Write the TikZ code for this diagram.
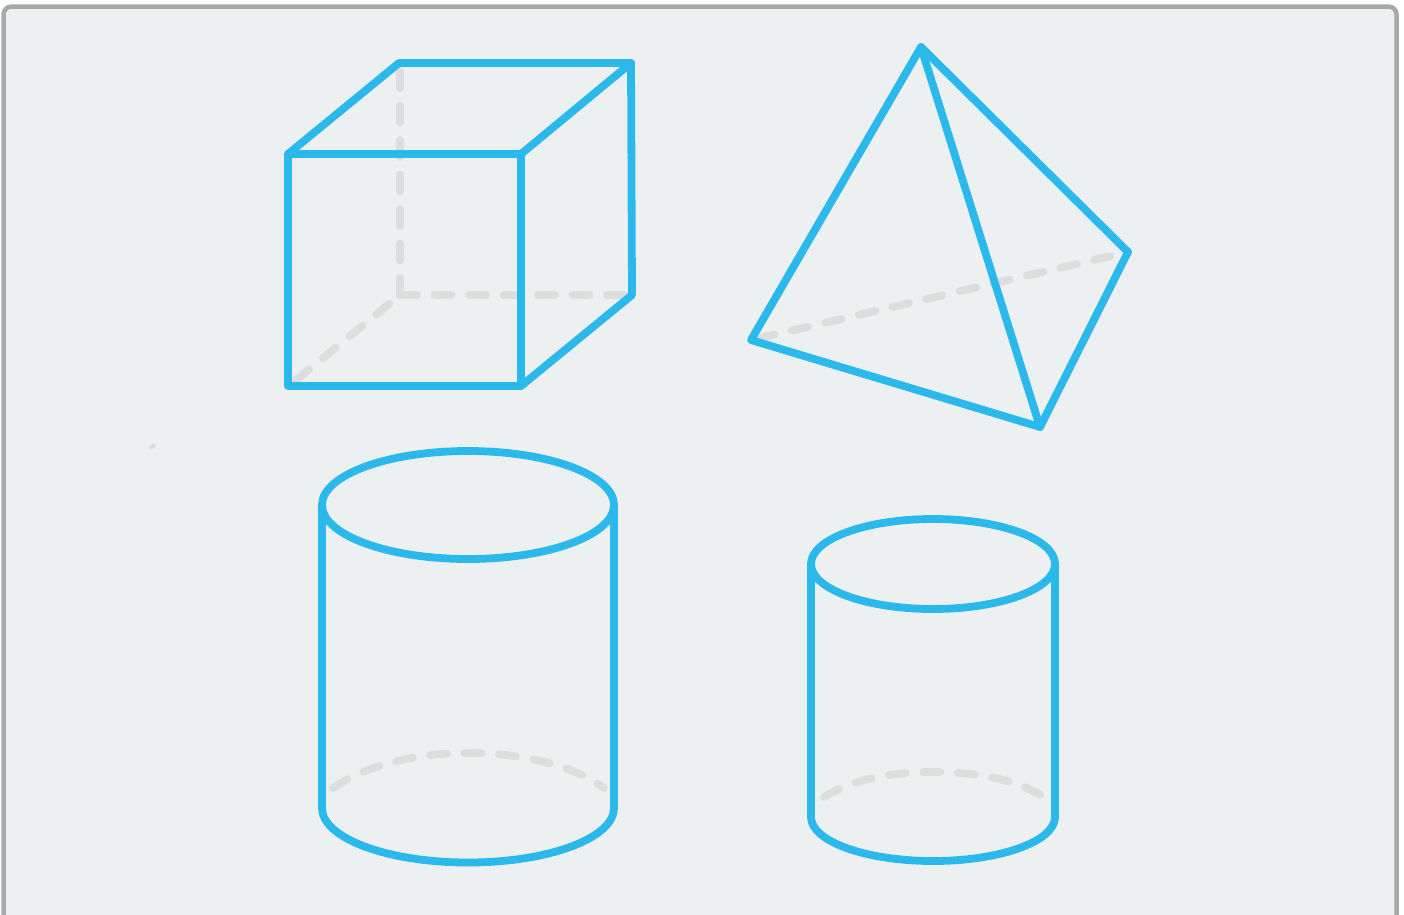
\documentclass[tikz,border=0pt]{standalone}
\begin{document}
\begin{tikzpicture}[x=1pt,y=-1pt,
  edge/.style={draw=edgeblue,line width=7.8pt,line join=round,line cap=round},
  hidden/.style={draw=hiddengrey,line width=7.8pt,line cap=round,dash pattern=on 17pt off 17.5pt},
  ]
\definecolor{edgeblue}{HTML}{2BB9EC}
\definecolor{hiddengrey}{HTML}{DCDEDE}
\definecolor{panelbg}{HTML}{EDF0F1}
\definecolor{framegrey}{HTML}{A6A9AA}
\useasboundingbox (0,0) rectangle (1404,914);
\fill[white] (0,0) rectangle (1404,914);
\begin{scope}
\clip (0,0) rectangle (1404,914);
\draw[framegrey,fill=panelbg,line width=4.5pt,rounded corners=8pt] (3.5,6.5) rectangle (1396.5,940);
\end{scope}
% stray speck
\draw[hiddengrey,line width=4pt,line cap=round] (151,447.5) -- (154,445.5);
% cube
\coordinate (A) at (288,154); \coordinate (B) at (521,154);
\coordinate (C) at (521,386); \coordinate (D) at (288,386);
\coordinate (E) at (399,63);  \coordinate (F) at (631,63);
\coordinate (G) at (632,295); \coordinate (H) at (400,295);
\coordinate (Dh) at (296,380);
\draw[hidden] (H) -- (400,66);
\draw[hidden] (H) -- (G);
\draw[hidden] (Dh) -- (H);
\draw[edge] (A) -- (B) -- (C) -- (D) -- cycle;
\draw[edge] (A) -- (E) -- (F) -- (B);
\draw[edge] (F) -- (G) -- (C);
% tetrahedron
\coordinate (P) at (921,47);  \coordinate (Q) at (751,340);
\coordinate (R) at (1040,427); \coordinate (S) at (1128,252);
\coordinate (Qh) at (758,338.4);
\draw[hidden] (Qh) -- (S);
\draw[edge] (P) -- (Q) -- (R) -- (S) -- cycle;
\draw[edge] (P) -- (R);
% large cylinder
\draw[hidden] (333,788) .. controls (370,763) and (420,753) .. (468,753)
   .. controls (516,753) and (570,763) .. (604,788);
\draw[edge] (468,505) ellipse (146pt and 54pt);
\draw[edge] (322,505) -- (322,808) arc[start angle=180,end angle=360,x radius=146,y radius=-54.5] -- (614,505);
% small cylinder
\draw[hidden] (824,797) .. controls (855,778) and (895,772) .. (933,772)
   .. controls (975,772) and (1015,779) .. (1044,797);
\draw[edge] (933,564) ellipse (122pt and 45pt);
\draw[edge] (811,564) -- (811,817) arc[start angle=180,end angle=360,x radius=122,y radius=-44] -- (1055,564);
\end{tikzpicture}
\end{document}
